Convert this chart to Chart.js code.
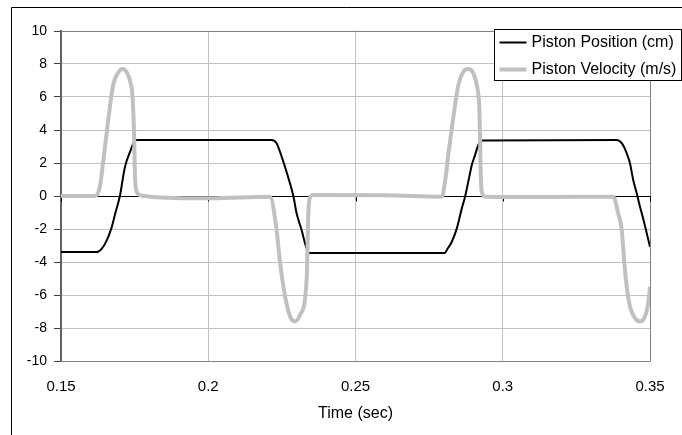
<!DOCTYPE html>
<html><head><meta charset="utf-8">
<script src="https://cdn.jsdelivr.net/npm/chart.js@4.4.1/dist/chart.umd.min.js"></script>
<style>html,body{margin:0;padding:0;background:#fff;} #wrap{width:682px;height:435px;position:relative;}</style>
</head><body><div id="wrap"><canvas id="c" width="682" height="435"></canvas></div>
<script>
const seriesNames = ['Piston Position (cm)', 'Piston Velocity (m/s)'];
const seriesColors = ['#000000', '#C0C0C0'];
const xTitle = 'Time (sec)';
const xTickValues = [0.15, 0.2, 0.25, 0.3, 0.35];
const xTickLabels = ['0.15', '0.2', '0.25', '0.3', '0.35'];
const yTickValues = [-10, -8, -6, -4, -2, 0, 2, 4, 6, 8, 10];

const positionTime = [0.150, 0.1621, 0.1638, 0.1655, 0.1672, 0.1685, 0.1700, 0.1717, 0.1737, 0.1746, 0.1757,
  0.2215, 0.2232, 0.2249, 0.2272, 0.2289, 0.2300, 0.2317, 0.2332, 0.2343,
  0.2804, 0.2810, 0.2827, 0.2844, 0.2861, 0.2872, 0.2883, 0.2895, 0.2906, 0.2917, 0.2932,
  0.3387, 0.3404, 0.3421, 0.3432, 0.3443, 0.3455, 0.3466, 0.3478, 0.3489, 0.3500];
const positionValue = [-3.40, -3.40, -3.20, -2.70, -1.90, -1.00, 0.00, 1.75, 2.80, 3.20, 3.39,
  3.39, 3.20, 2.40, 1.10, 0.00, -1.05, -2.06, -3.07, -3.45,
  -3.45, -3.27, -2.77, -1.96, -0.75, -0.04, 0.87, 1.88, 2.48, 3.09, 3.36,
  3.39, 3.20, 2.59, 1.98, 0.97, 0.16, -0.65, -1.45, -2.26, -3.07];

const velocityTime = [0.150, 0.1615, 0.1632, 0.1644, 0.1655, 0.1666, 0.1678, 0.1695, 0.1708, 0.1723, 0.1737, 0.1743, 0.1748, 0.1751, 0.1755, 0.1768, 0.1802, 0.2006,
  0.2210, 0.2232, 0.2244, 0.2261, 0.2278, 0.2295, 0.2312, 0.2334, 0.2340, 0.2345, 0.2356, 0.2600,
  0.2793, 0.2804, 0.2815, 0.2827, 0.2838, 0.2849, 0.2866, 0.2883, 0.2900, 0.2914, 0.2920, 0.2923, 0.2925, 0.2929, 0.2940, 0.3150,
  0.3375, 0.3392, 0.3404, 0.3413, 0.3421, 0.3432, 0.3449, 0.3466, 0.3483, 0.3494, 0.3500];
const velocityValue = [0.00, 0.00, 0.56, 2.2, 3.8, 5.4, 6.8, 7.5, 7.7, 7.5, 6.8, 6.0, 3.8, 1.4, 0.36, 0.06, -0.04, -0.14,
  -0.04, -2.06, -4.06, -6.1, -7.3, -7.6, -7.2, -5.1, -1.0, -0.1, 0.06, 0.05,
  -0.04, 0.87, 2.48, 4.1, 5.5, 6.7, 7.53, 7.7, 7.44, 6.53, 5.5, 3.5, 1.47, 0.26, -0.04, -0.06,
  -0.04, -1.05, -2.06, -4.08, -5.5, -6.7, -7.4, -7.6, -7.3, -6.5, -5.5];

const FONT = 'Arial, "Liberation Sans", sans-serif';

function pts(ts, vs) { return ts.map((t, i) => ({x: t, y: vs[i]})); }

const framePlugin = {
  id: 'frame',
  beforeDraw(chart) {
    const ctx = chart.ctx;
    ctx.save();
    ctx.fillStyle = '#fff';
    ctx.fillRect(0, 0, chart.width, chart.height);
    ctx.strokeStyle = '#000';
    ctx.lineWidth = 1;
    ctx.beginPath();
    ctx.moveTo(11.5, chart.height);
    ctx.lineTo(11.5, 7.5);
    ctx.lineTo(chart.width, 7.5);
    ctx.stroke();
    ctx.restore();
  },
  beforeDatasetsDraw(chart) {
    const {ctx, chartArea: a, scales: {x, y}} = chart;
    ctx.save();
    ctx.strokeStyle = '#808080';
    ctx.lineWidth = 1;
    const t = Math.round(a.top) + 0.5, r = Math.round(a.right) + 0.5, b = Math.round(a.bottom) + 0.5;
    ctx.beginPath();
    ctx.moveTo(a.left, t); ctx.lineTo(r, t); ctx.lineTo(r, b); ctx.lineTo(a.left, b);
    ctx.stroke();
    const y0 = Math.round(y.getPixelForValue(0)) + 0.5;
    ctx.strokeStyle = '#000';
    ctx.beginPath();
    ctx.moveTo(a.left, y0); ctx.lineTo(r, y0);
    xTickValues.forEach(v => {
      const px = Math.round(x.getPixelForValue(v)) + 0.5;
      ctx.moveTo(px, y0); ctx.lineTo(px, y0 + 5);
    });
    ctx.stroke();
    ctx.restore();
  },
  afterDraw(chart) {
    const {ctx, chartArea: a} = chart;
    ctx.save();
    const bx = Math.round(a.right) - 156 + 0.5, by = Math.round(a.top) - 2 + 0.5;
    const bw = 187, bh = 51;
    ctx.fillStyle = '#fff';
    ctx.fillRect(bx, by, bw, bh);
    ctx.strokeStyle = '#000';
    ctx.lineWidth = 1;
    ctx.strokeRect(bx, by, bw, bh);
    ctx.font = '16px ' + FONT;
    ctx.textBaseline = 'middle';
    ctx.fillStyle = '#000';
    chart.data.datasets.forEach((ds, i) => {
      const ly = by + 13 + i * 27;
      ctx.strokeStyle = ds.borderColor;
      ctx.lineWidth = ds.borderWidth;
      ctx.beginPath();
      ctx.moveTo(bx + 5, ly); ctx.lineTo(bx + 32, ly);
      ctx.stroke();
      ctx.fillText(ds.label, bx + 37, ly);
    });
    ctx.restore();
  }
};

new Chart(document.getElementById('c'), {
  type: 'line',
  data: {
    datasets: [
      {label: seriesNames[0], data: pts(positionTime, positionValue), borderColor: seriesColors[0], borderWidth: 2,
       pointRadius: 0, cubicInterpolationMode: 'monotone', order: 1, fill: false},
      {label: seriesNames[1], data: pts(velocityTime, velocityValue), borderColor: seriesColors[1], borderWidth: 4,
       pointRadius: 0, cubicInterpolationMode: 'monotone', order: 0, fill: false}
    ]
  },
  options: {
    responsive: false,
    devicePixelRatio: 1,
    animation: false,
    layout: {padding: {top: 31, right: 32, left: 0, bottom: 0}},
    plugins: {legend: {display: false}, tooltip: {enabled: false}},
    scales: {
      x: {
        type: 'linear', min: 0.15, max: 0.35,
        afterBuildTicks: s => { s.ticks = xTickValues.map(v => ({value: v})); },
        afterFit: s => { s.height = 74; },
        grid: {color: '#C0C0C0', drawTicks: false},
        border: {display: false},
        ticks: {font: {family: FONT, size: 15}, color: '#000', padding: 17, maxRotation: 0,
                callback: (v, i) => xTickLabels[i]},
        title: {display: true, text: xTitle, font: {family: FONT, size: 16}, color: '#000', padding: {top: 0, bottom: 12}}
      },
      y: {
        type: 'linear', min: -10, max: 10,
        afterBuildTicks: s => { s.ticks = yTickValues.map(v => ({value: v})); },
        afterFit: s => { s.width = 61; },
        grid: {color: '#C0C0C0', tickColor: '#404040', tickLength: 7},
        border: {display: true, color: '#606060', width: 2},
        ticks: {font: {family: FONT, size: 14}, color: '#000', padding: 7,
                callback: v => String(v)}
      }
    }
  },
  plugins: [framePlugin]
});
</script>
</body></html>
